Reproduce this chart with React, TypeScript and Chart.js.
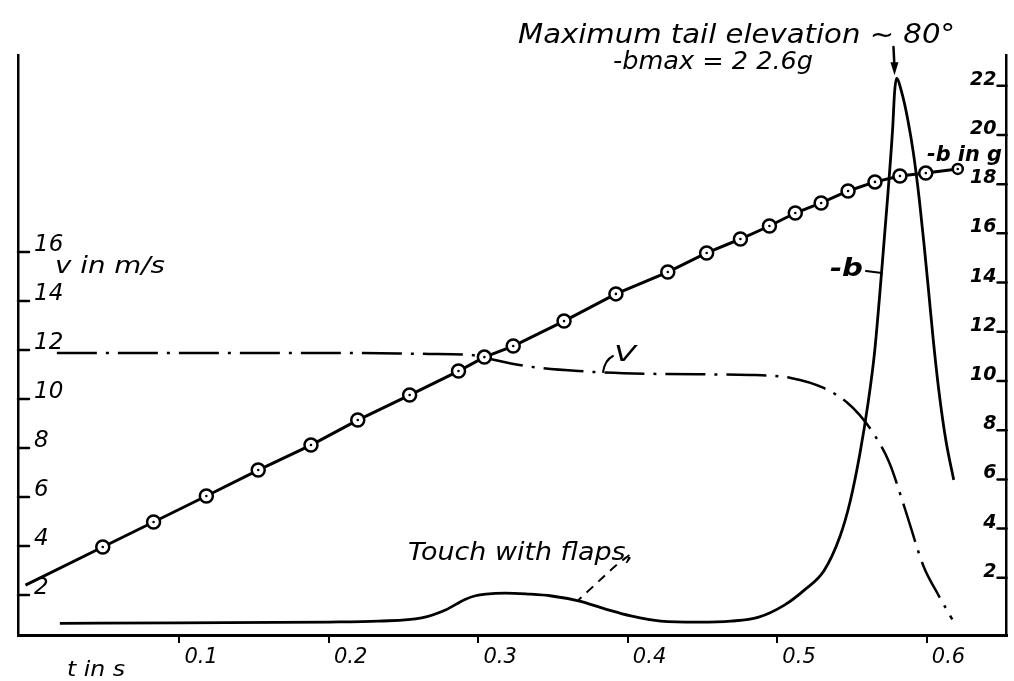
import React, { useEffect, useRef } from "react";
import { Chart, registerables } from "chart.js";

Chart.register(...registerables);

// ---- data ----
// time axis, s
const xTickValues = [0.1, 0.2, 0.3, 0.4, 0.5, 0.6];
const xTickLabels = ["0.1", "0.2", "0.3", "0.4", "0.5", "0.6"];
const leftTickValues = [2, 4, 6, 8, 10, 12, 14, 16];
const leftTickLabels = ["2", "4", "6", "8", "10", "12", "14", "16"];
const rightTickValues = [2, 4, 6, 8, 10, 12, 14, 16, 18, 20, 22];
const rightTickLabels = ["2", "4", "6", "8", "10", "12", "14", "16", "18", "20", "22"];

// circled curve (left scale)
const circleT = [-0.003, 0.0487, 0.0827, 0.118, 0.1527, 0.188, 0.2193, 0.254, 0.2867, 0.304, 0.3233, 0.3573, 0.392, 0.4267, 0.4527, 0.4753, 0.4947, 0.512, 0.5293, 0.5473, 0.5653, 0.582, 0.5993, 0.6207];
const circleV = [2.4, 3.96, 4.98, 6.04, 7.1, 8.12, 9.14, 10.16, 11.14, 11.71, 12.16, 13.18, 14.29, 15.18, 15.96, 16.53, 17.06, 17.59, 18.0, 18.49, 18.86, 19.1, 19.22, 19.39];

// velocity v in m/s (left scale)
const velT = [0.018, 0.113, 0.213, 0.267, 0.295, 0.305, 0.331, 0.367, 0.422, 0.482, 0.509, 0.531, 0.547, 0.555, 0.565, 0.575, 0.585, 0.598, 0.607, 0.617];
const velV = [11.88, 11.88, 11.88, 11.84, 11.8, 11.67, 11.35, 11.14, 11.02, 10.98, 10.86, 10.45, 9.84, 9.35, 8.53, 7.39, 5.59, 3.14, 2.08, 1.0];

// deceleration -b in g (right scale)
const bT = [0.02, 0.1, 0.2, 0.233, 0.262, 0.278, 0.291, 0.298, 0.305, 0.318, 0.333, 0.349, 0.367, 0.385, 0.402, 0.422, 0.447, 0.469, 0.487, 0.5047, 0.518, 0.5313, 0.542, 0.5487, 0.5553, 0.5607, 0.565, 0.5697, 0.574, 0.5772, 0.5784, 0.5797, 0.5833, 0.5873, 0.591, 0.595, 0.5983, 0.6013, 0.6043, 0.608, 0.6127, 0.618];
const bG = [0.15, 0.17, 0.2, 0.24, 0.37, 0.69, 1.12, 1.27, 1.34, 1.38, 1.34, 1.26, 1.06, 0.73, 0.45, 0.24, 0.2, 0.24, 0.39, 0.89, 1.5, 2.3, 3.7, 5.1, 7.07, 9.11, 11.14, 14.39, 17.64, 20.33, 21.71, 22.3, 21.71, 20.61, 19.27, 17.36, 15.45, 13.58, 11.67, 9.63, 7.6, 5.98];

// "Touch with flaps" dashed leader (right scale)
const leaderT = [0.401, 0.392, 0.383, 0.375, 0.367];
const leaderG = [2.93, 2.5, 2.0, 1.55, 1.1];

const FONT = "'DejaVu Sans'";

function fitText(ctx: CanvasRenderingContext2D, text: string, x: number, y: number, size: number, width: number, weight = "normal") {
  ctx.save();
  ctx.font = `italic ${weight} ${size}px ${FONT}`;
  const w = ctx.measureText(text).width;
  ctx.translate(x, y);
  ctx.scale(width / w, 1);
  ctx.textAlign = "left";
  ctx.textBaseline = "alphabetic";
  ctx.fillStyle = "#000";
  ctx.fillText(text, 0, 0);
  ctx.restore();
}

const annotations = {
  id: "annotations",
  afterDraw(chart: any) {
    const ctx: CanvasRenderingContext2D = chart.ctx;
    const xs = chart.scales.x;
    const yl = chart.scales.yL;
    const yr = chart.scales.yR;
    const { left, right } = chart.chartArea;
    ctx.save();
    ctx.strokeStyle = "#000";
    ctx.lineCap = "round";
    // tick marks on left axis (inside)
    ctx.lineWidth = 2.5;
    leftTickValues.forEach((v) => {
      const y = yl.getPixelForValue(v);
      ctx.beginPath();
      ctx.moveTo(left, y);
      ctx.lineTo(left + 11, y);
      ctx.stroke();
    });
    // tick marks and labels on right axis (inside)
    ctx.font = `italic bold 19px ${FONT}`;
    ctx.textAlign = "right";
    ctx.textBaseline = "alphabetic";
    ctx.fillStyle = "#000";
    rightTickValues.forEach((v, i) => {
      const y = yr.getPixelForValue(v);
      ctx.beginPath();
      ctx.moveTo(right - 9, y);
      ctx.lineTo(right, y);
      ctx.stroke();
      ctx.fillText(rightTickLabels[i], right - 10, y - 1);
    });

    // arrow to peak
    const peakIdx = bG.indexOf(Math.max(...bG));
    const ax = xs.getPixelForValue(bT[peakIdx]) - 2;
    const ayTip = yr.getPixelForValue(bG[peakIdx]) - 3;
    ctx.lineWidth = 2.5;
    ctx.beginPath();
    ctx.moveTo(ax - 1, 47);
    ctx.lineTo(ax, ayTip - 8);
    ctx.stroke();
    ctx.beginPath();
    ctx.moveTo(ax - 4, ayTip - 13);
    ctx.lineTo(ax + 4, ayTip - 13);
    ctx.lineTo(ax, ayTip);
    ctx.closePath();
    ctx.fill();

    // "-b" curve label leader
    ctx.lineWidth = 2;
    ctx.beginPath();
    ctx.moveTo(866, 271);
    ctx.lineTo(882, 273);
    ctx.stroke();

    // "V" label hook
    ctx.beginPath();
    ctx.moveTo(603, 372);
    ctx.quadraticCurveTo(605, 360, 613, 356);
    ctx.stroke();
    ctx.restore();

    // texts
    fitText(ctx, "Maximum tail elevation ~ 80°", 518, 43, 27, 437);
    fitText(ctx, "-bmax = 2 2.6g", 613, 69, 24, 200);
    fitText(ctx, "v in m/s", 55, 273, 23, 110);
    fitText(ctx, "-b in g", 927, 161, 22, 75, "bold");
    fitText(ctx, "-b", 830, 276, 24, 33, "bold");
    fitText(ctx, "V", 614, 361, 22, 22);
    fitText(ctx, "Touch with flaps,", 408, 560, 24, 226);
    fitText(ctx, "t in s", 67, 676, 22, 58);
  },
};

export default function App() {
  const ref = useRef<HTMLCanvasElement | null>(null);
  useEffect(() => {
    if (!ref.current) return;
    const chart = new Chart(ref.current, {
      type: "line",
      data: {
        datasets: [
          {
            label: "centre dots",
            data: circleT.map((t, i) => ({ x: t, y: circleV[i] })),
            yAxisID: "yL",
            showLine: false,
            pointRadius: circleT.map((_, i) => (i === 0 ? 0 : 1.3)),
            pointBackgroundColor: "#000",
            pointBorderWidth: 0,
          },
          {
            label: "circled curve",
            data: circleT.map((t, i) => ({ x: t, y: circleV[i] })),
            yAxisID: "yL",
            borderColor: "#000",
            borderWidth: 3,
            tension: 0,
            pointRadius: circleT.map((_, i) => (i === 0 ? 0 : i === circleT.length - 1 ? 5 : 6.5)),
            pointBackgroundColor: "#fff",
            pointBorderColor: "#000",
            pointBorderWidth: 2.5,
          },
          {
            label: "v",
            data: velT.map((t, i) => ({ x: t, y: velV[i] })),
            yAxisID: "yL",
            borderColor: "#000",
            borderWidth: 2.5,
            borderDash: [40, 9, 3, 9],
            cubicInterpolationMode: "monotone",
            pointRadius: 0,
          },
          {
            label: "-b",
            data: bT.map((t, i) => ({ x: t, y: bG[i] })),
            yAxisID: "yR",
            borderColor: "#000",
            borderWidth: 2.8,
            cubicInterpolationMode: "monotone",
            pointRadius: 0,
          },
          {
            label: "leader",
            data: leaderT.map((t, i) => ({ x: t, y: leaderG[i] })),
            yAxisID: "yR",
            borderColor: "#000",
            borderWidth: 2,
            borderDash: [9, 7],
            cubicInterpolationMode: "monotone",
            pointRadius: 0,
          },
        ],
      },
      options: {
        animation: false,
        responsive: false,
        maintainAspectRatio: false,
        events: [],
        layout: { padding: { left: 18, right: 4, top: 55, bottom: 0 } },
        plugins: { legend: { display: false }, tooltip: { enabled: false } },
        scales: {
          x: {
            type: "linear",
            min: -0.008,
            max: 0.6533,
            afterFit: (s: any) => {
              s.height = 46;
            },
            afterBuildTicks: (s: any) => {
              s.ticks = xTickValues.map((v) => ({ value: v }));
            },
            ticks: {
              callback: (_v: any, i: number) => xTickLabels[i],
              align: "start",
              labelOffset: 5,
              padding: 2,
              autoSkip: false,
              maxRotation: 0,
              color: "#000",
              font: { family: FONT, style: "italic", size: 21 },
            },
            grid: { display: true, drawOnChartArea: false, drawTicks: true, tickLength: 8, color: "#000", lineWidth: 2 },
            border: { display: true, color: "#000", width: 3 },
          },
          yL: {
            type: "linear",
            position: "left",
            min: 0.367,
            max: 24.04,
            afterFit: (s: any) => {
              s.width = 0;
            },
            afterBuildTicks: (s: any) => {
              s.ticks = leftTickValues.map((v) => ({ value: v }));
            },
            ticks: {
              callback: (_v: any, i: number) => leftTickLabels[i],
              mirror: true,
              padding: 16,
              labelOffset: -7,
              color: "#000",
              font: { family: FONT, style: "italic", size: 23 },
            },
            grid: { display: false },
            border: { display: true, color: "#000", width: 2.5 },
          },
          yR: {
            type: "linear",
            position: "right",
            min: -0.325,
            max: 23.25,
            afterFit: (s: any) => {
              s.width = 0;
            },
            afterBuildTicks: (s: any) => {
              s.ticks = rightTickValues.map((v) => ({ value: v }));
            },
            ticks: { display: false },
            grid: { display: false },
            border: { display: true, color: "#000", width: 2.5 },
          },
        },
      } as any,
      plugins: [annotations],
    });
    return () => chart.destroy();
  }, []);
  return (
    <div style={{ position: "fixed", left: 0, top: 0, width: 1014, height: 681, background: "#fff" }}>
      <canvas ref={ref} width={1014} height={681} style={{ display: "block" }} />
    </div>
  );
}
